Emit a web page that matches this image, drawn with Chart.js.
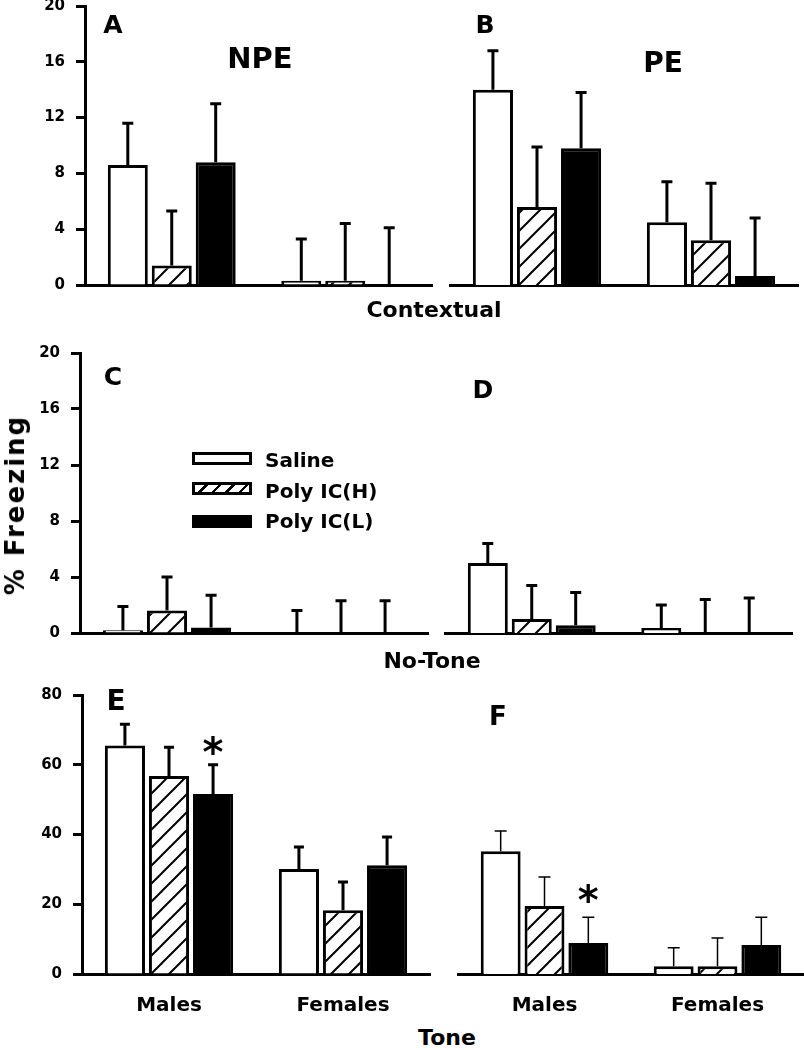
<!DOCTYPE html>
<html>
<head>
<meta charset="utf-8">
<script src="https://cdn.jsdelivr.net/npm/chart.js@4.4.0/dist/chart.umd.min.js"></script>
<style>
body { margin: 0; width: 804px; height: 1050px; background: #fff; position: relative; overflow: hidden;
       font-family: 'DejaVu Sans', sans-serif; font-weight: bold; color: #000; }
canvas { position: absolute; }
.t { position: absolute; transform: translate(-50%, -50%); line-height: 1; white-space: nowrap; }
.key { position: absolute; left: 192px; width: 54px; height: 7px; border: 3px solid #000; }
.keytxt { position: absolute; left: 265px; font-size: 20px; line-height: 1; transform: translateY(-50%); white-space: nowrap; }
</style>
</head>
<body>
<canvas id="cA" width="445" height="321" style="left:0px;top:-14px"></canvas>
<canvas id="cB" width="364" height="321" style="left:440px;top:-14px"></canvas>
<canvas id="cC" width="440" height="322" style="left:0px;top:333px"></canvas>
<canvas id="cD" width="364" height="322" style="left:440px;top:333px"></canvas>
<canvas id="cE" width="440" height="349" style="left:0px;top:675px"></canvas>
<canvas id="cF" width="364" height="349" style="left:440px;top:675px"></canvas>

<div class="t" style="left:113px;top:24px;font-size:25px">A</div>
<div class="t" style="left:260px;top:58px;font-size:29px">NPE</div>
<div class="t" style="left:485px;top:24px;font-size:25px">B</div>
<div class="t" style="left:663px;top:63px;font-size:28px">PE</div>
<div class="t" style="left:434px;top:310px;font-size:22px">Contextual</div>
<div class="t" style="left:113px;top:376px;font-size:25px">C</div>
<div class="t" style="left:483px;top:389px;font-size:25px">D</div>
<div class="t" style="left:432px;top:661px;font-size:22px">No-Tone</div>
<div class="t" style="left:116px;top:701px;font-size:28px">E</div>
<div class="t" style="left:498px;top:716px;font-size:26px">F</div>
<div class="t" style="left:447px;top:1038px;font-size:22px">Tone</div>
<div class="t" style="left:15px;top:505px;font-size:26px;letter-spacing:2px;transform:translate(-50%,-50%) rotate(-90deg)">% Freezing</div>

<div class="key" style="top:452px;background:#fff"></div>
<div class="key" style="top:482px;background:repeating-linear-gradient(135deg,#fff 0px,#fff 7px,#000 7px,#000 9.5px)"></div>
<div class="key" style="top:515px;background:#000"></div>
<div class="keytxt" style="top:460px">Saline</div>
<div class="keytxt" style="top:491px">Poly IC(H)</div>
<div class="keytxt" style="top:521px">Poly IC(L)</div>

<script>
// 群とシリーズ
const groups = ['Males', 'Females'];
const treatments = ['Saline', 'Poly IC(H)', 'Poly IC(L)'];

// A: Contextual, NPE
const aSaline = [8.6, 0.3],  aSalineSem = [3.0, 3.0];
const aPolyH  = [1.4, 0.3],  aPolyHSem  = [3.9, 4.1];
const aPolyL  = [8.8, 0.05], aPolyLSem  = [4.2, 4.05];
// B: Contextual, PE
const bSaline = [14.0, 4.5], bSalineSem = [2.8, 2.9];
const bPolyH  = [5.6, 3.2],  bPolyHSem  = [4.3, 4.1];
const bPolyL  = [9.8, 0.65], bPolyLSem  = [4.0, 4.15];
// C: No-Tone, NPE
const cSaline = [0.2, 0],    cSalineSem = [1.7, 1.6];
const cPolyH  = [1.6, 0],    cPolyHSem  = [2.4, 2.3];
const cPolyL  = [0.4, 0],    cPolyLSem  = [2.3, 2.3];
// D: No-Tone, PE
const dSaline = [5.0, 0.35], dSalineSem = [1.4, 1.65];
const dPolyH  = [1.0, 0],    dPolyHSem  = [2.4, 2.4];
const dPolyL  = [0.55, 0],   dPolyLSem  = [2.35, 2.5];
// E: Tone, NPE
const eSaline = [65.5, 30.1], eSalineSem = [6.1, 6.3];
const ePolyH  = [56.8, 18.3], ePolyHSem  = [8.2, 8.1];
const ePolyL  = [51.6, 31.2], ePolyLSem  = [8.4, 8.1];
// F: Tone, PE
const fSaline = [35.2, 2.2], fSalineSem = [5.8, 5.3];
const fPolyH  = [19.5, 2.2], fPolyHSem  = [8.3, 8.1];
const fPolyL  = [8.9, 8.3],  fPolyLSem  = [7.4, 8.0];

// 有意差マーク (Poly IC(L) のみ)
const eStars = ['*', ''];
const fStars = ['*', ''];

// 斜線パターン
function hatch() {
    const s = 18;
    const c = document.createElement('canvas');
    c.width = s; c.height = s;
    const g = c.getContext('2d');
    g.fillStyle = '#fff';
    g.fillRect(0, 0, s, s);
    g.strokeStyle = '#000';
    g.lineWidth = 2;
    g.beginPath();
    g.moveTo(-s / 2, s / 2); g.lineTo(s / 2, -s / 2);
    g.moveTo(0, s); g.lineTo(s, 0);
    g.moveTo(s / 2, s * 1.5); g.lineTo(s * 1.5, s / 2);
    g.stroke();
    return g.createPattern(c, 'repeat');
}
const fills = ['#fff', hatch(), '#000'];

// エラーバー
const errorBars = {
    id: 'errorBars',
    afterDatasetsDraw(chart, args, opts) {
        const ctx = chart.ctx;
        const y = chart.scales.y;
        ctx.save();
        ctx.strokeStyle = '#000';
        ctx.fillStyle = '#000';
        ctx.lineWidth = opts.lineWidth;
        chart.data.datasets.forEach((ds, di) => {
            chart.getDatasetMeta(di).data.forEach((bar, i) => {
                const top = y.getPixelForValue(ds.data[i] + ds.sem[i]);
                ctx.beginPath();
                ctx.moveTo(bar.x, bar.y);
                ctx.lineTo(bar.x, top);
                ctx.moveTo(bar.x - opts.cap / 2, top);
                ctx.lineTo(bar.x + opts.cap / 2, top);
                ctx.stroke();
                if (ds.stars && ds.stars[i]) {
                    ctx.font = 'bold 40px "DejaVu Sans"';
                    ctx.textAlign = 'center';
                    ctx.textBaseline = 'alphabetic';
                    ctx.fillText(ds.stars[i], bar.x, top + opts.starShift);
                }
            });
        });
        ctx.restore();
    }
};

Chart.defaults.font.family = '"DejaVu Sans"';
Chart.defaults.font.weight = 'bold';
Chart.defaults.color = '#000';

function makePanel(id, series, sems, stars, p) {
    const datasets = series.map((d, k) => ({
        label: treatments[k],
        data: d,
        sem: sems[k],
        stars: k === 2 ? stars : null,
        backgroundColor: fills[k],
        borderColor: '#000',
        borderWidth: 3,
        categoryPercentage: 0.76,
        barPercentage: 0.91
    }));
    return new Chart(document.getElementById(id), {
        type: 'bar',
        data: { labels: groups, datasets: datasets },
        plugins: [errorBars],
        options: {
            responsive: false,
            animation: false,
            layout: { padding: { left: p.left, right: p.right, top: 20, bottom: 0 } },
            plugins: {
                legend: { display: false },
                tooltip: { enabled: false },
                errorBars: { lineWidth: p.errW, cap: p.cap, starShift: p.starShift || 0 }
            },
            scales: {
                x: {
                    ticks: { display: p.xLabels, font: { size: 20 }, padding: 20 },
                    grid: { display: false, drawTicks: false },
                    border: { display: true, color: '#000', width: 3 },
                    afterFit: s => { s.height = p.xHeight; }
                },
                y: {
                    display: p.yAxis,
                    min: 0,
                    max: p.max,
                    ticks: { stepSize: p.step, font: { size: 15 }, padding: 11 },
                    grid: { drawOnChartArea: false, drawTicks: true, tickLength: 9, tickWidth: 3, tickColor: '#000' },
                    border: { color: '#000', width: 3 },
                    afterFit: s => { s.width = p.yWidth; }
                }
            }
        }
    });
}

makePanel('cA', [aSaline, aPolyH, aPolyL], [aSalineSem, aPolyHSem, aPolyLSem], null,
    { left: 0, right: 13, yWidth: 85, yAxis: true, max: 20, step: 4, xHeight: 22, xLabels: false, errW: 3, cap: 11 });
makePanel('cB', [bSaline, bPolyH, bPolyL], [bSalineSem, bPolyHSem, bPolyLSem], null,
    { left: 10, right: 6, yWidth: 0, yAxis: false, max: 20, step: 4, xHeight: 22, xLabels: false, errW: 3, cap: 11 });
makePanel('cC', [cSaline, cPolyH, cPolyL], [cSalineSem, cPolyHSem, cPolyLSem], null,
    { left: 0, right: 12, yWidth: 80, yAxis: true, max: 20, step: 4, xHeight: 22, xLabels: false, errW: 3, cap: 11 });
makePanel('cD', [dSaline, dPolyH, dPolyL], [dSalineSem, dPolyHSem, dPolyLSem], null,
    { left: 5, right: 12, yWidth: 0, yAxis: false, max: 20, step: 4, xHeight: 22, xLabels: false, errW: 3, cap: 11 });
makePanel('cE', [eSaline, ePolyH, ePolyL], [eSalineSem, ePolyHSem, ePolyLSem], eStars,
    { left: 0, right: 10, yWidth: 82, yAxis: true, max: 80, step: 20, xHeight: 50, xLabels: true, errW: 3, cap: 10, starShift: 1 });
makePanel('cF', [fSaline, fPolyH, fPolyL], [fSalineSem, fPolyHSem, fPolyLSem], fStars,
    { left: 18, right: 0, yWidth: 0, yAxis: false, max: 80, step: 20, xHeight: 50, xLabels: true, errW: 1.5, cap: 12, starShift: -3 });
</script>
</body>
</html>
